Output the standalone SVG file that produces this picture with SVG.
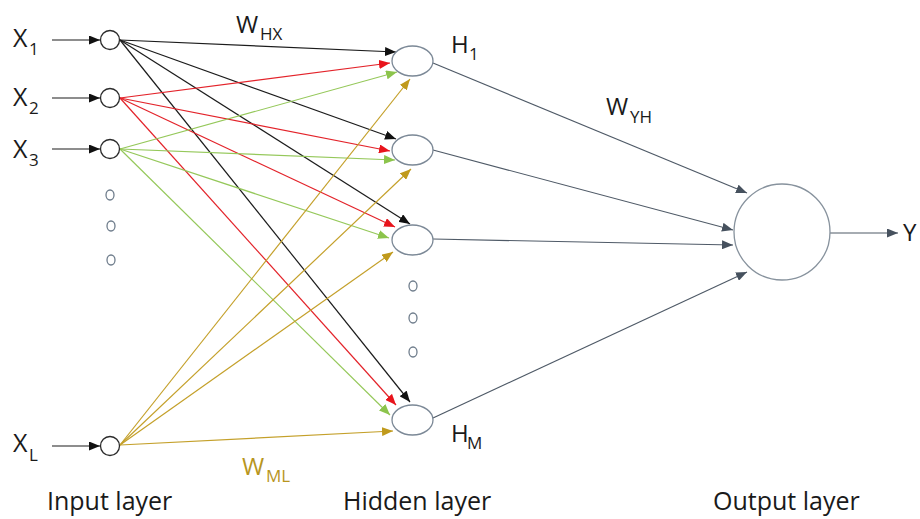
<svg xmlns="http://www.w3.org/2000/svg" width="920" height="519" viewBox="0 0 920 519">
<style>
text{font-family:"Open Sans","Liberation Sans",sans-serif;fill:#1a1a1a}
.lbl{font-size:24px}
.xl{font-size:25px}
.sub{font-size:17px}
.layer{font-size:25px}
.in{fill:#fff;stroke:#2b2b2b;stroke-width:1.3}
.hid{fill:#fff;stroke:#7b8896;stroke-width:1.3}
.dot{fill:none;stroke:#6f7d8c;stroke-width:1.3}
.k{stroke:#1c1c1c;stroke-width:1.2;fill:none;marker-end:url(#ak)}
.r{stroke:#e3232a;stroke-width:1.2;fill:none;marker-end:url(#ar)}
.g{stroke:#95c85a;stroke-width:1.2;fill:none;marker-end:url(#ag)}
.y{stroke:#c4a02a;stroke-width:1.2;fill:none;marker-end:url(#ay)}
.o{stroke:#4f5a67;stroke-width:1.2;fill:none;marker-end:url(#ao)}
.gold{fill:#b8961e}
</style>
<defs>
<marker id="ak" markerUnits="userSpaceOnUse" markerWidth="11" markerHeight="9" refX="11" refY="4.5" orient="auto"><path d="M0,0 L11,4.5 L0,9 z" fill="#111"/></marker>
<marker id="ar" markerUnits="userSpaceOnUse" markerWidth="11" markerHeight="9" refX="11" refY="4.5" orient="auto"><path d="M0,0 L11,4.5 L0,9 z" fill="#e8141c"/></marker>
<marker id="ag" markerUnits="userSpaceOnUse" markerWidth="11" markerHeight="9" refX="11" refY="4.5" orient="auto"><path d="M0,0 L11,4.5 L0,9 z" fill="#8cc44c"/></marker>
<marker id="ay" markerUnits="userSpaceOnUse" markerWidth="11" markerHeight="9" refX="11" refY="4.5" orient="auto"><path d="M0,0 L11,4.5 L0,9 z" fill="#c09a1c"/></marker>
<marker id="ao" markerUnits="userSpaceOnUse" markerWidth="11" markerHeight="9" refX="11" refY="4.5" orient="auto"><path d="M0,0 L11,4.5 L0,9 z" fill="#46515e"/></marker>
</defs>
<rect width="920" height="519" fill="#fff"/>

<g id="connectors">
<line class="k" x1="52" y1="40" x2="100" y2="40"/>
<line class="k" x1="52" y1="98" x2="100" y2="98"/>
<line class="k" x1="52" y1="149" x2="100" y2="149"/>
<line class="k" x1="52" y1="446" x2="100" y2="446"/>
<line class="k" x1="120" y1="40" x2="396" y2="52"/>
<line class="k" x1="120" y1="40" x2="396" y2="139"/>
<line class="k" x1="120" y1="40" x2="410" y2="224"/>
<line class="k" x1="120" y1="40" x2="410" y2="402"/>
<line class="r" x1="120" y1="98" x2="390" y2="63"/>
<line class="r" x1="120" y1="98" x2="390" y2="151"/>
<line class="r" x1="120" y1="98" x2="395" y2="227"/>
<line class="r" x1="120" y1="98" x2="396" y2="405"/>
<line class="g" x1="120" y1="149" x2="397" y2="72"/>
<line class="g" x1="120" y1="149" x2="395" y2="160"/>
<line class="g" x1="120" y1="149" x2="389" y2="238"/>
<line class="g" x1="120" y1="149" x2="390" y2="415"/>
<line class="y" x1="120" y1="445" x2="410" y2="79"/>
<line class="y" x1="120" y1="445" x2="411" y2="169"/>
<line class="y" x1="120" y1="445" x2="393" y2="252"/>
<line class="y" x1="120" y1="445" x2="393" y2="431"/>
<line class="o" x1="433" y1="63" x2="747" y2="193"/>
<line class="o" x1="433" y1="150" x2="733" y2="230"/>
<line class="o" x1="433" y1="239" x2="733" y2="245"/>
<line class="o" x1="433" y1="418" x2="747" y2="272"/>
<line class="o" x1="830" y1="233" x2="898" y2="233"/>
</g>

<g id="x1"><circle class="in" cx="110" cy="40" r="9.5"/><text class="xl" x="13" y="47">X</text><text class="sub" x="29" y="55">1</text></g>
<g id="x2"><circle class="in" cx="110" cy="98" r="9.5"/><text class="xl" x="13" y="106">X</text><text class="sub" x="29" y="114">2</text></g>
<g id="x3"><circle class="in" cx="110" cy="149" r="9.5"/><text class="xl" x="13" y="158">X</text><text class="sub" x="29" y="166">3</text></g>
<g id="xl"><circle class="in" cx="110" cy="446" r="9.5"/><text class="xl" x="13" y="452">X</text><text class="sub" x="29" y="461">L</text></g>

<g id="input-dots">
<ellipse class="dot" cx="110" cy="195" rx="4" ry="5"/>
<ellipse class="dot" cx="111" cy="226" rx="4" ry="5"/>
<ellipse class="dot" cx="111" cy="260" rx="4" ry="5"/>
</g>

<g id="h1"><ellipse class="hid" cx="412.5" cy="61" rx="20.5" ry="15"/><text class="lbl" x="451" y="53">H</text><text class="sub" x="469" y="60">1</text></g>
<g id="h2"><ellipse class="hid" cx="412.5" cy="150" rx="20.5" ry="15"/></g>
<g id="h3"><ellipse class="hid" cx="412.5" cy="240" rx="20.5" ry="15"/></g>
<g id="hm"><ellipse class="hid" cx="412.5" cy="420" rx="20.5" ry="15"/><text class="lbl" x="451" y="442">H</text><text class="sub" x="467" y="449">M</text></g>

<g id="hidden-dots">
<ellipse class="dot" cx="413" cy="286" rx="4" ry="5"/>
<ellipse class="dot" cx="413" cy="318" rx="4" ry="5"/>
<ellipse class="dot" cx="413" cy="352" rx="4" ry="5"/>
</g>

<g id="output"><circle cx="782" cy="232" r="48" fill="#fff" stroke="#87929d" stroke-width="1.3"/><text class="lbl" x="903" y="241">Y</text></g>

<g id="weights">
<text class="lbl" x="236" y="33">W</text><text class="sub" x="260" y="40">HX</text>
<text class="lbl" x="606" y="115">W</text><text class="sub" x="630" y="123">YH</text>
<text class="lbl gold" x="242" y="475">W</text><text class="sub gold" x="266" y="482">ML</text>
</g>

<g id="layers">
<text class="layer" x="47" y="510">Input layer</text>
<text class="layer" x="343" y="510">Hidden layer</text>
<text class="layer" x="713" y="510">Output layer</text>
</g>
</svg>
